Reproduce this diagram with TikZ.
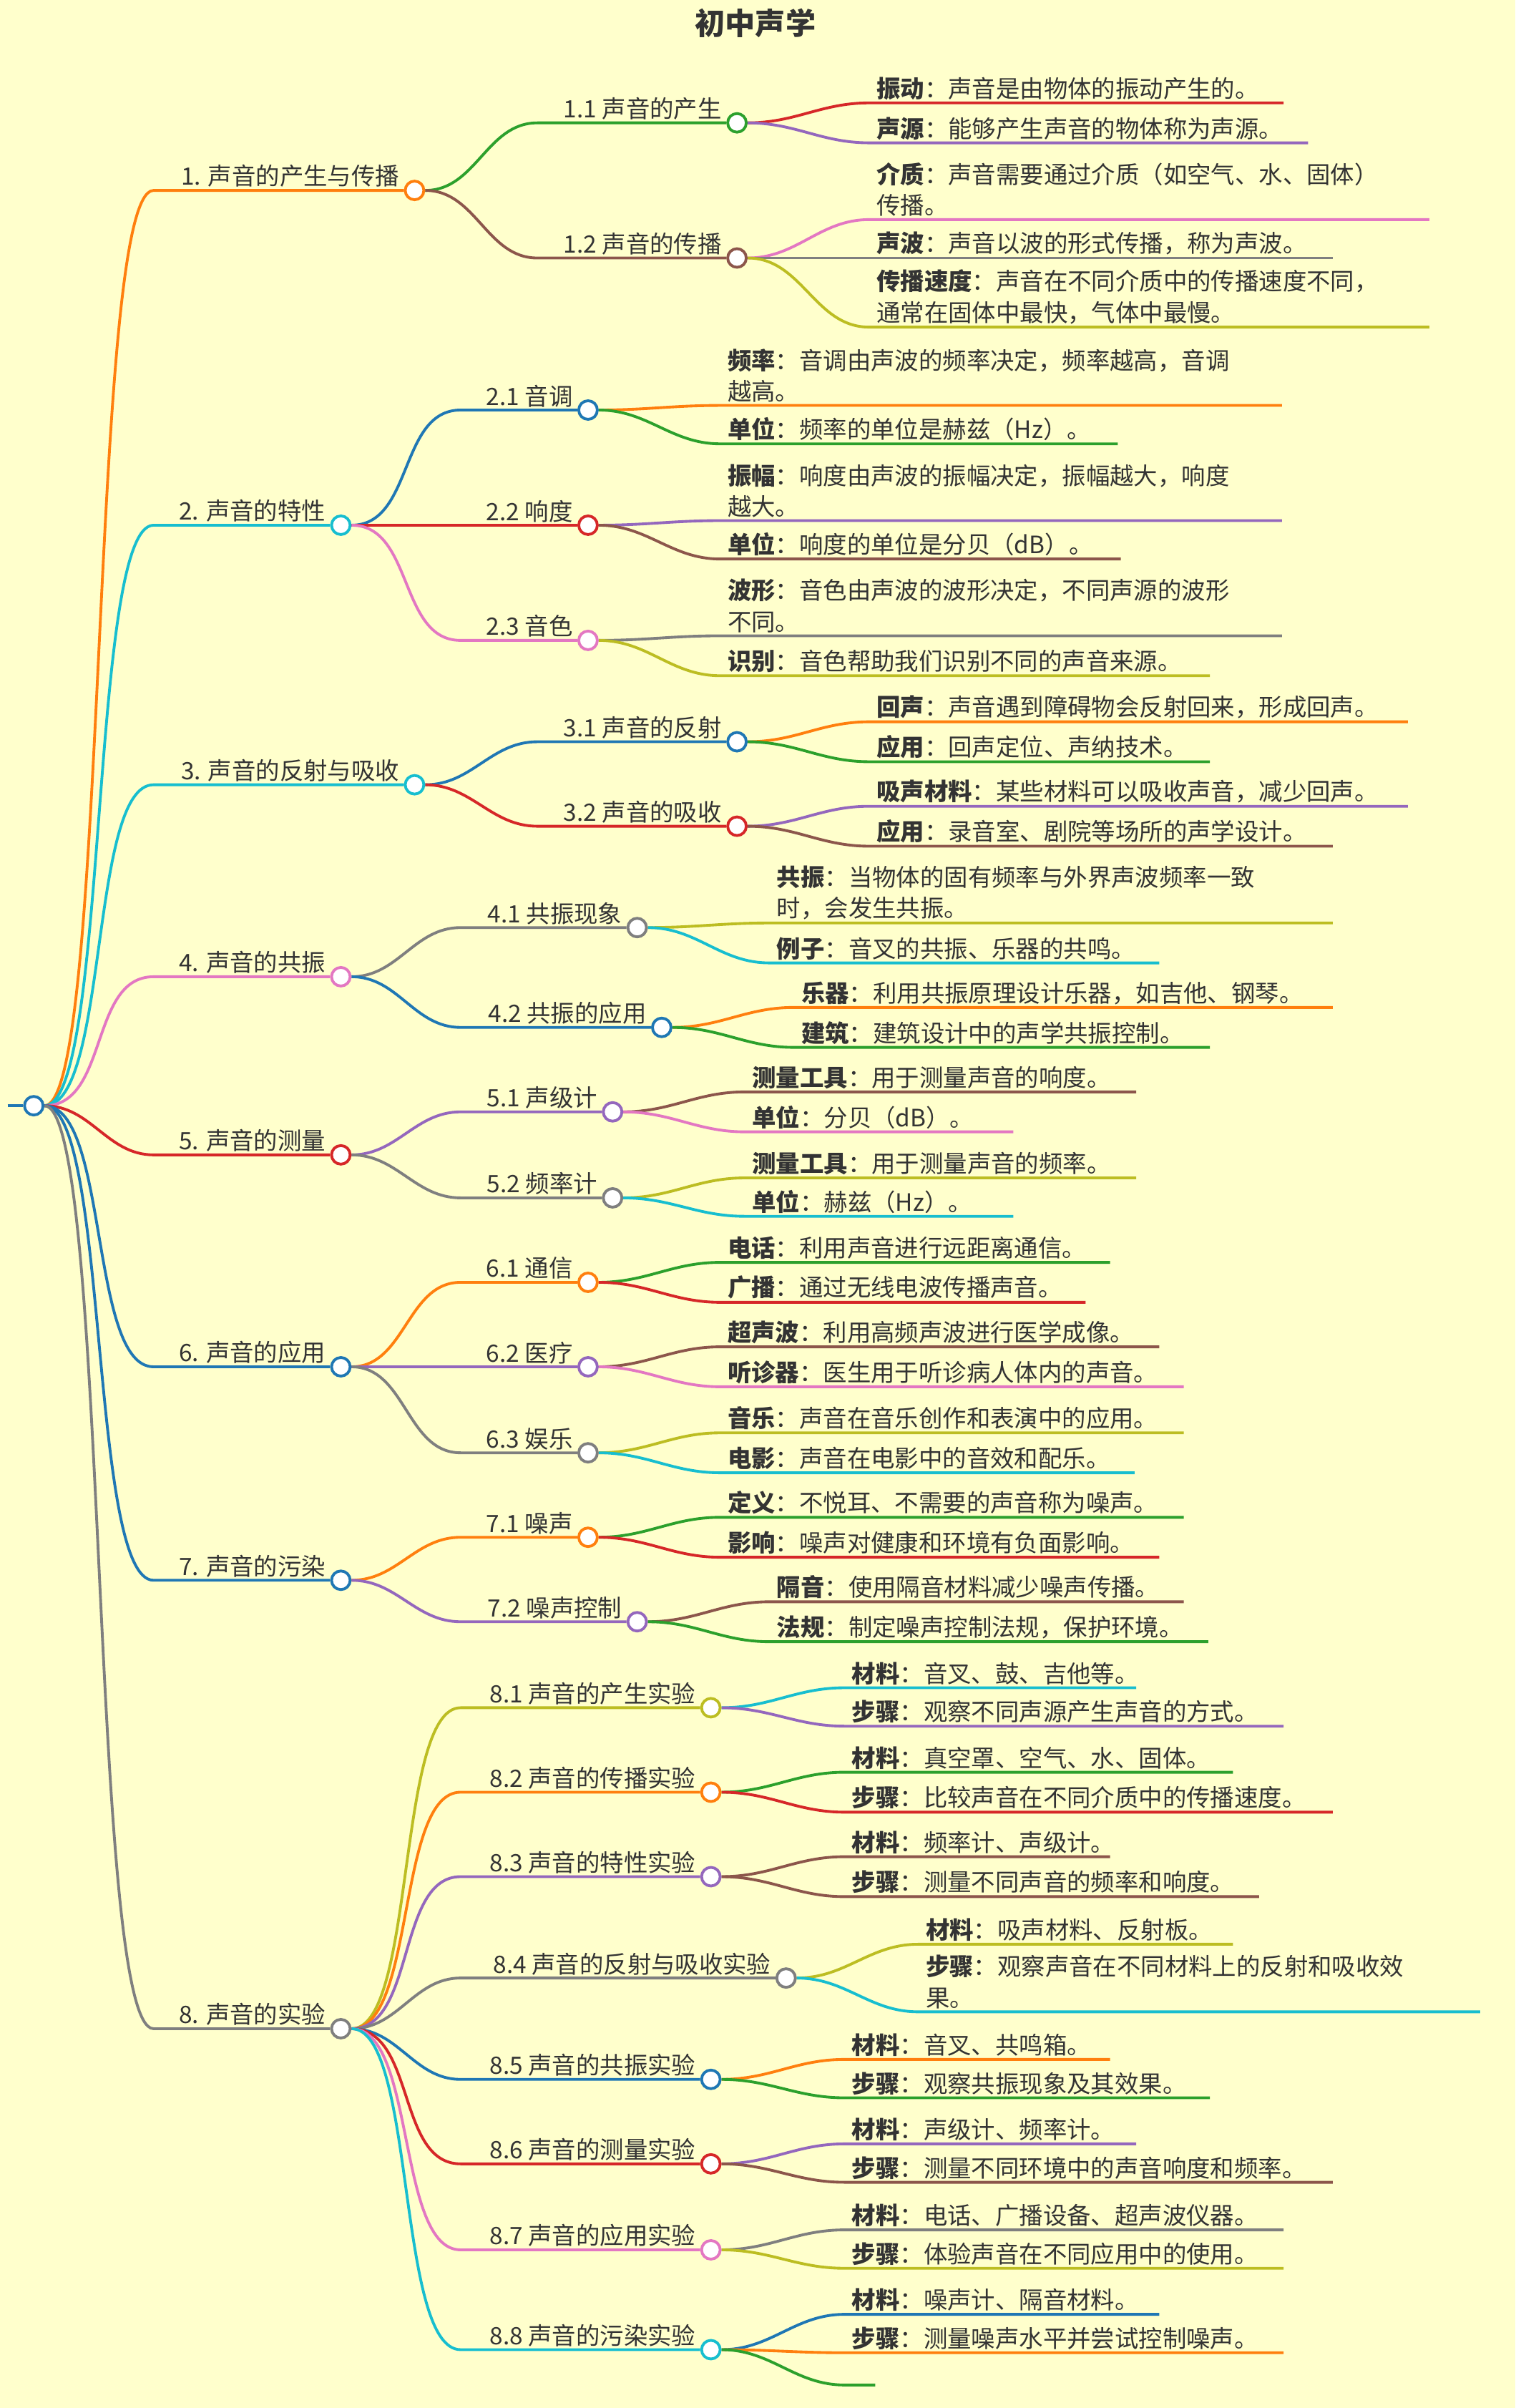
\documentclass[tikz,border=0pt]{standalone}
\usepackage{fontspec}
\setmainfont{Noto Sans CJK SC}
\usetikzlibrary{positioning}
\definecolor{bgyellow}{HTML}{FFFFCC}
\definecolor{ink}{HTML}{333333}
\definecolor{cOrange}{HTML}{FF7F0E}
\definecolor{cGreen}{HTML}{2CA02C}
\definecolor{cRed}{HTML}{D62728}
\definecolor{cPurple}{HTML}{9467BD}
\definecolor{cBrown}{HTML}{8C564B}
\definecolor{cPink}{HTML}{E377C2}
\definecolor{cGray}{HTML}{7F7F7F}
\definecolor{cOlive}{HTML}{BCBD22}
\definecolor{cCyan}{HTML}{17BECF}
\definecolor{cBlue}{HTML}{1F77B4}
\pgfdeclarelayer{bg}
\pgfsetlayers{bg,main}
\tikzset{
  link/.style={line width=1.1pt,max distance=0.9cm},
  dot/.style={circle,draw=#1,fill=white,line width=1.1pt,minimum size=0.26cm,inner sep=0pt},
  topic/.style={anchor=south east,inner sep=1pt,text=ink,font=\fontsize{9.5}{12.4}\selectfont},
  leaf/.style={anchor=south west,inner sep=1pt,align=left,text=ink,font=\fontsize{9.5}{12.4}\selectfont}
}
% parent, name, colour, line start x, circle x, y, text
\newcommand{\topic}[7]{%
\node[dot=#3](#2)at(#5,#6){};
\node[topic](#2t)at(#5-8,#6){#7};
\begin{pgfonlayer}{bg}\draw[link,#3](#1)to[out=0,in=180](#4,#6)--(#2);\end{pgfonlayer}}
% parent, name, colour, text x, y, end x, text
\newcommand{\leaf}[7]{%
\node[leaf](#2)at(#4,#5){#7};
\begin{pgfonlayer}{bg}\draw[link,#3](#1)to[out=0,in=180](#4-3,#5)--(#6,#5);\end{pgfonlayer}}

\begin{document}
\begin{tikzpicture}[x=0.02146cm,y=-0.02146cm]
\begin{pgfonlayer}{bg}\fill[bgyellow](0,0)rectangle(987,1568);\end{pgfonlayer}
\useasboundingbox(0,0)rectangle(987,1568);
\node[font=\bfseries\fontsize{12}{14}\selectfont,text=ink](title)at(492,15){初中声学};
\node[dot=cBlue](root)at(22,720){};
\coordinate(stub)at(5,720);
\begin{pgfonlayer}{bg}\draw[link,cBlue](stub)--(root);\end{pgfonlayer}
%1
\topic{root}{n1}{cOrange}{100}{270}{124}{1. 声音的产生与传播}
\topic{n1}{n11}{cGreen}{350}{480}{80}{1.1 声音的产生}
\leaf{n11}{l111}{cRed}{569}{67}{836}{\textbf{振动}：声音是由物体的振动产生的。}
\leaf{n11}{l112}{cPurple}{569}{93}{852}{\textbf{声源}：能够产生声音的物体称为声源。}
\topic{n1}{n12}{cBrown}{350}{480}{168}{1.2 声音的传播}
\leaf{n12}{l121}{cPink}{569}{143}{931}{\textbf{介质}：声音需要通过介质（如空气、水、固体）\\传播。}
\leaf{n12}{l122}{cGray}{569}{168}{868}{\textbf{声波}：声音以波的形式传播，称为声波。}
\leaf{n12}{l123}{cOlive}{569}{213}{931}{\textbf{传播速度}：声音在不同介质中的传播速度不同，\\通常在固体中最快，气体中最慢。}
%2
\topic{root}{n2}{cCyan}{100}{222}{342}{2. 声音的特性}
\topic{n2}{n21}{cBlue}{300}{383}{267}{2.1 音调}
\leaf{n21}{l211}{cOrange}{472}{264}{835}{\textbf{频率}：音调由声波的频率决定，频率越高，音调\\越高。}
\leaf{n21}{l212}{cGreen}{472}{289}{728}{\textbf{单位}：频率的单位是赫兹（Hz）。}
\topic{n2}{n22}{cRed}{300}{383}{342}{2.2 响度}
\leaf{n22}{l221}{cPurple}{472}{339}{835}{\textbf{振幅}：响度由声波的振幅决定，振幅越大，响度\\越大。}
\leaf{n22}{l222}{cBrown}{472}{364}{730}{\textbf{单位}：响度的单位是分贝（dB）。}
\topic{n2}{n23}{cPink}{300}{383}{417}{2.3 音色}
\leaf{n23}{l231}{cGray}{472}{414}{835}{\textbf{波形}：音色由声波的波形决定，不同声源的波形\\不同。}
\leaf{n23}{l232}{cOlive}{472}{440}{788}{\textbf{识别}：音色帮助我们识别不同的声音来源。}
%3
\topic{root}{n3}{cCyan}{100}{270}{511}{3. 声音的反射与吸收}
\topic{n3}{n31}{cBlue}{350}{480}{483}{3.1 声音的反射}
\leaf{n31}{l311}{cOrange}{569}{470}{917}{\textbf{回声}：声音遇到障碍物会反射回来，形成回声。}
\leaf{n31}{l312}{cGreen}{569}{496}{788}{\textbf{应用}：回声定位、声纳技术。}
\topic{n3}{n32}{cRed}{350}{480}{538}{3.2 声音的吸收}
\leaf{n32}{l321}{cPurple}{569}{525}{917}{\textbf{吸声材料}：某些材料可以吸收声音，减少回声。}
\leaf{n32}{l322}{cBrown}{569}{551}{868}{\textbf{应用}：录音室、剧院等场所的声学设计。}
%4
\topic{root}{n4}{cPink}{100}{222}{636}{4. 声音的共振}
\topic{n4}{n41}{cGray}{300}{415}{604}{4.1 共振现象}
\leaf{n41}{l411}{cOlive}{504}{601}{868}{\textbf{共振}：当物体的固有频率与外界声波频率一致\\时，会发生共振。}
\leaf{n41}{l412}{cCyan}{504}{627}{755}{\textbf{例子}：音叉的共振、乐器的共鸣。}
\topic{n4}{n42}{cBlue}{300}{431}{669}{4.2 共振的应用}
\leaf{n42}{l421}{cOrange}{520}{656}{868}{\textbf{乐器}：利用共振原理设计乐器，如吉他、钢琴。}
\leaf{n42}{l422}{cGreen}{520}{682}{788}{\textbf{建筑}：建筑设计中的声学共振控制。}
%5
\topic{root}{n5}{cRed}{100}{222}{752}{5. 声音的测量}
\topic{n5}{n51}{cPurple}{300}{399}{724}{5.1 声级计}
\leaf{n51}{l511}{cBrown}{488}{711}{740}{\textbf{测量工具}：用于测量声音的响度。}
\leaf{n51}{l512}{cPink}{488}{737}{660}{\textbf{单位}：分贝（dB）。}
\topic{n5}{n52}{cGray}{300}{399}{780}{5.2 频率计}
\leaf{n52}{l521}{cOlive}{488}{767}{740}{\textbf{测量工具}：用于测量声音的频率。}
\leaf{n52}{l522}{cCyan}{488}{792}{660}{\textbf{单位}：赫兹（Hz）。}
%6
\topic{root}{n6}{cBlue}{100}{222}{890}{6. 声音的应用}
\topic{n6}{n61}{cOrange}{300}{383}{835}{6.1 通信}
\leaf{n61}{l611}{cGreen}{472}{822}{723}{\textbf{电话}：利用声音进行远距离通信。}
\leaf{n61}{l612}{cRed}{472}{848}{707}{\textbf{广播}：通过无线电波传播声音。}
\topic{n6}{n62}{cPurple}{300}{383}{890}{6.2 医疗}
\leaf{n62}{l621}{cBrown}{472}{877}{755}{\textbf{超声波}：利用高频声波进行医学成像。}
\leaf{n62}{l622}{cPink}{472}{903}{771}{\textbf{听诊器}：医生用于听诊病人体内的声音。}
\topic{n6}{n63}{cGray}{300}{383}{946}{6.3 娱乐}
\leaf{n63}{l631}{cOlive}{472}{933}{771}{\textbf{音乐}：声音在音乐创作和表演中的应用。}
\leaf{n63}{l632}{cCyan}{472}{959}{739}{\textbf{电影}：声音在电影中的音效和配乐。}
%7
\topic{root}{n7}{cBlue}{100}{222}{1029}{7. 声音的污染}
\topic{n7}{n71}{cOrange}{300}{383}{1001}{7.1 噪声}
\leaf{n71}{l711}{cGreen}{472}{988}{771}{\textbf{定义}：不悦耳、不需要的声音称为噪声。}
\leaf{n71}{l712}{cRed}{472}{1014}{755}{\textbf{影响}：噪声对健康和环境有负面影响。}
\topic{n7}{n72}{cPurple}{300}{415}{1056}{7.2 噪声控制}
\leaf{n72}{l721}{cBrown}{504}{1043}{771}{\textbf{隔音}：使用隔音材料减少噪声传播。}
\leaf{n72}{l722}{cGreen}{504}{1069}{787}{\textbf{法规}：制定噪声控制法规，保护环境。}
%8
\topic{root}{n8}{cGray}{100}{222}{1321}{8. 声音的实验}
\topic{n8}{n81}{cOlive}{300}{463}{1112}{8.1 声音的产生实验}
\leaf{n81}{l811}{cCyan}{553}{1099}{740}{\textbf{材料}：音叉、鼓、吉他等。}
\leaf{n81}{l812}{cPurple}{553}{1124}{836}{\textbf{步骤}：观察不同声源产生声音的方式。}
\topic{n8}{n82}{cOrange}{300}{463}{1167}{8.2 声音的传播实验}
\leaf{n82}{l821}{cGreen}{553}{1154}{803}{\textbf{材料}：真空罩、空气、水、固体。}
\leaf{n82}{l822}{cRed}{553}{1180}{868}{\textbf{步骤}：比较声音在不同介质中的传播速度。}
\topic{n8}{n83}{cPurple}{300}{463}{1222}{8.3 声音的特性实验}
\leaf{n83}{l831}{cBrown}{553}{1209}{723}{\textbf{材料}：频率计、声级计。}
\leaf{n83}{l832}{cBrown}{553}{1235}{820}{\textbf{步骤}：测量不同声音的频率和响度。}
\topic{n8}{n84}{cGray}{300}{512}{1288}{8.4 声音的反射与吸收实验}
\leaf{n84}{l841}{cOlive}{601}{1266}{803}{\textbf{材料}：吸声材料、反射板。}
\leaf{n84}{l842}{cCyan}{601}{1310}{964}{\textbf{步骤}：观察声音在不同材料上的反射和吸收效\\果。}
\topic{n8}{n85}{cBlue}{300}{463}{1354}{8.5 声音的共振实验}
\leaf{n85}{l851}{cOrange}{553}{1341}{723}{\textbf{材料}：音叉、共鸣箱。}
\leaf{n85}{l852}{cGreen}{553}{1366}{788}{\textbf{步骤}：观察共振现象及其效果。}
\topic{n8}{n86}{cRed}{300}{463}{1409}{8.6 声音的测量实验}
\leaf{n86}{l861}{cPurple}{553}{1396}{740}{\textbf{材料}：声级计、频率计。}
\leaf{n86}{l862}{cBrown}{553}{1421}{868}{\textbf{步骤}：测量不同环境中的声音响度和频率。}
\topic{n8}{n87}{cPink}{300}{463}{1465}{8.7 声音的应用实验}
\leaf{n87}{l871}{cGray}{553}{1452}{836}{\textbf{材料}：电话、广播设备、超声波仪器。}
\leaf{n87}{l872}{cOlive}{553}{1477}{836}{\textbf{步骤}：体验声音在不同应用中的使用。}
\topic{n8}{n88}{cCyan}{300}{463}{1530}{8.8 声音的污染实验}
\leaf{n88}{l881}{cBlue}{553}{1507}{755}{\textbf{材料}：噪声计、隔音材料。}
\leaf{n88}{l882}{cOrange}{553}{1532}{836}{\textbf{步骤}：测量噪声水平并尝试控制噪声。}
\leaf{n88}{l883}{cGreen}{553}{1553}{570}{}
\end{tikzpicture}
\end{document}
